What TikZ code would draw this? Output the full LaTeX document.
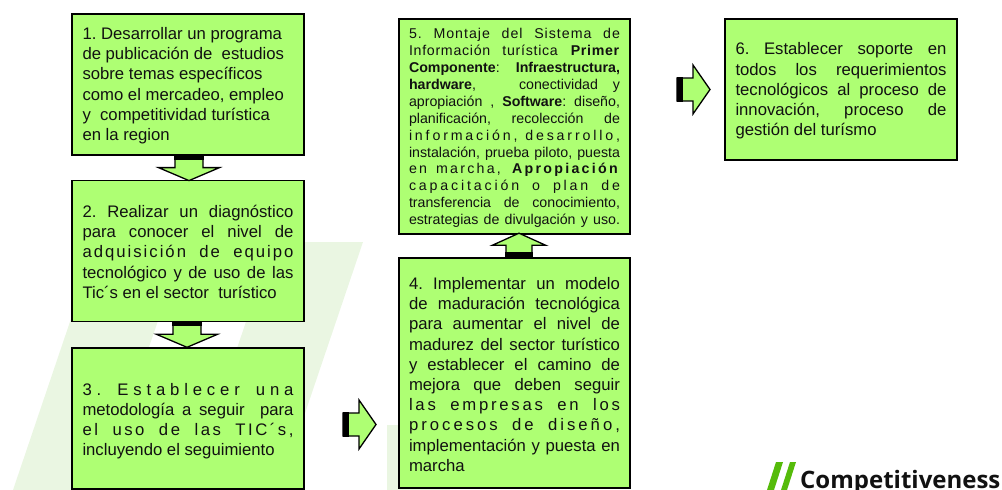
\documentclass[tikz,border=0pt]{standalone}
\usepackage{fontspec}
\usetikzlibrary{calc}
\setmainfont{Liberation Sans}
\newfontfamily\logofont{Open Sans}
\definecolor{boxgreen}{HTML}{AEFF73}
\definecolor{palegreen}{HTML}{EAF6E2}
\definecolor{logogreen}{HTML}{55BB0A}
\definecolor{inkblack}{HTML}{111111}
\newcommand{\natsp}[1]{\spaceskip=.278em\relax\xspaceskip=.278em\relax\leavevmode\rule{0pt}{#1}\ignorespaces}
\newcommand{\jl}[1]{{\spaceskip=.278em plus 1fil\relax\xspaceskip=\spaceskip\makebox[211pt][s]{#1}}\\}
\newcommand{\ls}[2]{{\addfontfeature{LetterSpace=#1}\spaceskip=.32em plus 1fil\relax\xspaceskip=\spaceskip\makebox[211pt][s]{#2}}\\}
\newcommand{\blockarrow}[7]{% at, rotation, shaft length, total length, shaft half width, head half width, black band
  \begin{scope}[shift={#1},rotate=#2]
    \draw[arrowline,fill=boxgreen] (0,-#5) -- (#3,-#5) -- (#3,-#6) -- (#4,0) -- (#3,#6) -- (#3,#5) -- (0,#5) -- cycle;
    \fill[black] (0,-#5-0.7) rectangle (#7,#5+0.7);
  \end{scope}}
\tikzset{
  arrowline/.style={draw=black,line width=1.3pt,line join=miter},
  stepbox/.style={draw=black,fill=boxgreen,line width=1.6pt,inner xsep=0pt,inner ysep=0pt,text=inkblack,
    text width=211pt,align=left,font=\frenchspacing\fontsize{16.7}{20.2}\selectfont},
  stripe/.style={fill=palegreen,draw=none}
}
\begin{document}
\begin{tikzpicture}[x=1pt,y=-1pt]
\useasboundingbox (0,0) rectangle (1002,490);
\clip (0,0) rectangle (1002,490);
\fill[stripe] (97,242) -- (185,242) -- (100,490) -- (13,490) -- cycle;
\fill[stripe] (273,242) -- (363,242) -- (279,490) -- (189,490) -- cycle;
\fill[stripe] (387,425) rectangle (450,490);

\node[stepbox,minimum width=232pt,minimum height=141pt] (b1) at (188,84.3) {\natsp{15pt}
1. Desarrollar un programa\\
de publicación de \ estudios\\
sobre temas específicos\\
como el mercadeo, empleo\\
y \ competitividad turística\\
en la region};
\node[stepbox,minimum width=232pt,minimum height=141pt] (b2) at (188,251) {\natsp{14pt}
\jl{2. Realizar un diagnóstico}
\jl{para conocer el nivel de}
\ls{12}{adquisición de equipo}
\jl{tecnológico y de uso de las}
Tic´s en el sector \ turístico};
\node[stepbox,minimum width=232pt,minimum height=141pt] (b3) at (188,418.3) {\natsp{18pt}
\ls{29}{3. Establecer una}
\jl{metodología a seguir \ para}
\ls{15}{el uso de las TIC´s,}
incluyendo el seguimiento};
\node[stepbox,minimum width=231pt,minimum height=230pt] (b4) at (514.5,373) {\natsp{15pt}
\jl{4. Implementar un modelo}
\jl{de maduración tecnológica}
\jl{para aumentar el nivel de}
\jl{madurez del sector turístico}
\jl{y establecer el camino de}
\jl{mejora que deben seguir}
\ls{16.5}{las empresas en los}
\ls{18}{procesos de diseño,}
\jl{implementación y puesta en}
marcha};
\node[stepbox,font=\frenchspacing\fontsize{14.2}{16.9}\selectfont,minimum width=231pt,minimum height=215pt] (b5) at (514.5,126.5) {\natsp{13.3pt}
\ls{7}{5. Montaje del Sistema de}
\ls{5}{Información turística \textbf{Primer}}
\jl{\textbf{Componente}: \textbf{Infraestructura,}}
\jl{\textbf{hardware},\hspace{28pt} conectividad y}
\jl{apropiación , \textbf{Software}: diseño,}
\jl{planificación, recolección de}
\ls{20}{información, desarrollo,}
\jl{instalación, prueba piloto, puesta}
\ls{16}{en marcha, \textbf{Apropiación}}
\ls{20}{capacitación o plan de}
\jl{transferencia de conocimiento,}
\jl{estrategias de divulgación y uso.}};
\node[stepbox,minimum width=232pt,minimum height=141pt] (b6) at (841,89.5) {\natsp{15pt}
\jl{6. Establecer soporte en}
\jl{todos los requerimientos}
\jl{tecnológicos al proceso de}
\jl{innovación, proceso de}
gestión del turísmo};

\blockarrow{($(b1.south)+(1,0)$)}{-90}{12}{25}{14}{30.5}{4}
\blockarrow{($(b2.south)+(-1,0)$)}{-90}{12}{25}{14}{30.5}{4}
\blockarrow{($(b4.north)+(4.5,0)$)}{90}{12}{24}{13}{26.5}{5}
\coordinate (r1) at (343,424.5);
\coordinate (r2) at (677,89.5);
\blockarrow{(r1)}{0}{16}{33}{11.5}{24.5}{6}
\blockarrow{(r2)}{0}{16}{33}{11.5}{24.5}{6}

\fill[logogreen] (767,490) -- (776,462) -- (783,462) -- (774,490) -- cycle;
\fill[logogreen] (781,490) -- (790,462) -- (796,462) -- (787,490) -- cycle;
\node[anchor=base west,inner sep=0pt,text=inkblack,font=\logofont\bfseries\fontsize{24}{24}\selectfont] (logo) at (800,488) {Competitiveness};
\end{tikzpicture}
\end{document}
